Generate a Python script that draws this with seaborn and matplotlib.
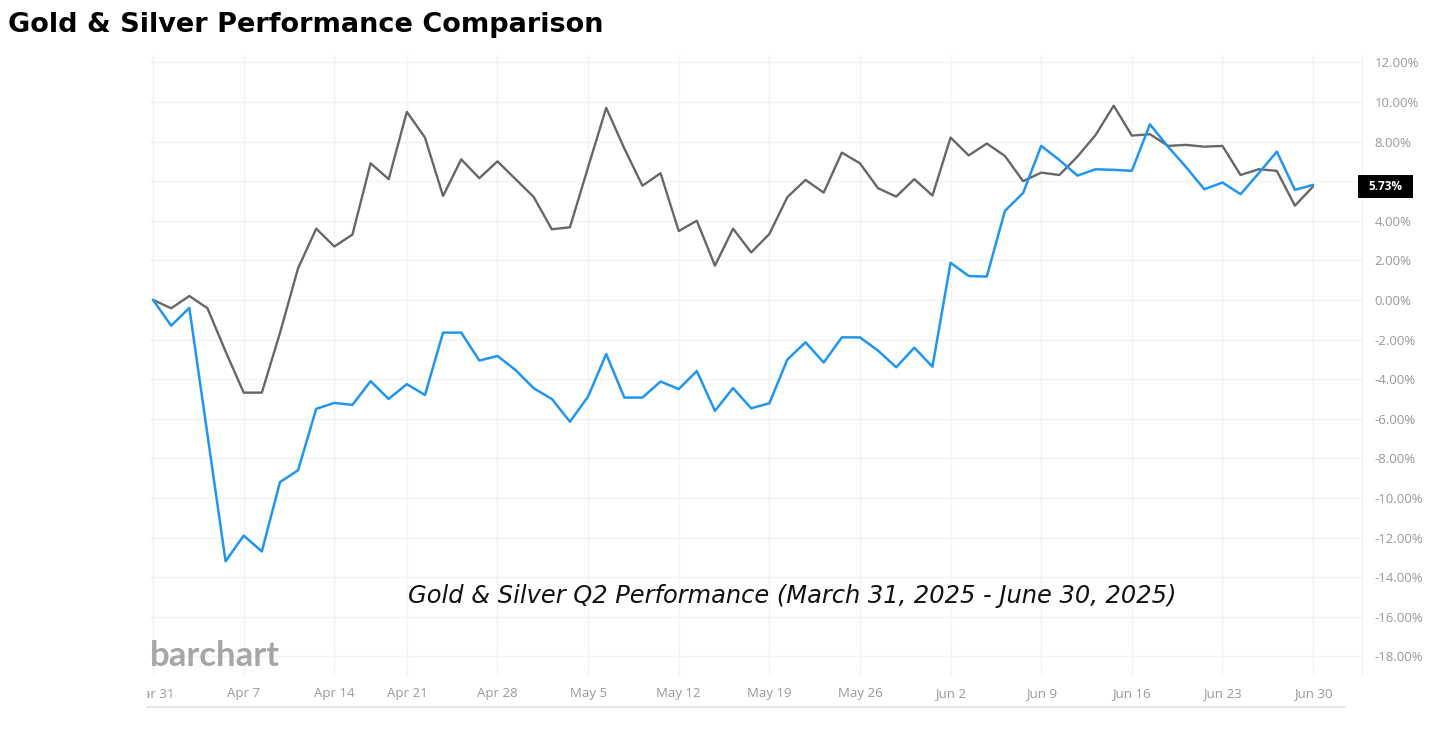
import numpy as np
import pandas as pd
import matplotlib
matplotlib.use("Agg")
import matplotlib.pyplot as plt
import matplotlib.transforms as mtransforms
from matplotlib.lines import Line2D
from matplotlib.patches import Rectangle
import seaborn as sns

# sessions Mar 31 - Jun 30 2025 (Good Friday closed)
sessions = pd.bdate_range("2025-03-31", "2025-06-30")
sessions = sessions[sessions != pd.Timestamp("2025-04-18")]

# % change since Mar 31
gold = [0.0, -0.42, 0.2, -0.42, -2.6, -4.68, -4.68, -1.67, 1.6, 3.6,
        2.7, 3.3, 6.9, 6.1, 9.5, 8.2, 5.25, 7.1, 6.15, 7.0,
        6.1, 5.2, 3.57, 3.67, 6.7, 9.7, 7.65, 5.77, 6.4, 3.48,
        4.0, 1.73, 3.6, 2.4, 3.33, 5.2, 6.06, 5.42, 7.44, 6.9,
        5.64, 5.22, 6.1, 5.27, 8.2, 7.3, 7.9, 7.27, 6.0, 6.43,
        6.31, 7.24, 8.33, 9.81, 8.3, 8.37, 7.78, 7.83, 7.74, 7.78,
        6.31, 6.6, 6.52, 4.76, 5.73]
silver = [0.0, -1.3, -0.4, -6.8, -13.2, -11.9, -12.7, -9.2, -8.6, -5.5,
          -5.2, -5.3, -4.1, -5.0, -4.25, -4.8, -1.65, -1.65, -3.06, -2.83,
          -3.54, -4.46, -5.0, -6.15, -4.88, -2.73, -4.93, -4.93, -4.12, -4.5,
          -3.59, -5.6, -4.45, -5.47, -5.22, -3.0, -2.14, -3.16, -1.89, -1.89,
          -2.56, -3.4, -2.41, -3.37, 1.88, 1.21, 1.18, 4.5, 5.4, 7.78,
          7.07, 6.28, 6.6, 6.57, 6.52, 8.87, 7.74, 6.7, 5.59, 5.93,
          5.34, 6.4, 7.49, 5.56, 5.81]

df = pd.DataFrame({"session": np.arange(len(sessions)), "date": sessions,
                   "Gold": gold, "Silver": silver})

sns.set_style("white")
plt.rcParams["font.family"] = ["Open Sans", "DejaVu Sans"]
plt.rcParams["axes.unicode_minus"] = False

fig = plt.figure(figsize=(14.45, 7.29), dpi=100)
ax = fig.add_axes([150 / 1445, 1 - 675 / 729, 1212 / 1445, 620 / 729])

sns.lineplot(data=df, x="session", y="Gold", ax=ax, color="#676767", linewidth=1.7)
sns.lineplot(data=df, x="session", y="Silver", ax=ax, color="#2196f0", linewidth=1.8)

ax.set_xlim(-0.17, 66.7)
ax.set_ylim(-18.94, 12.37)

# weekly ticks on the first session (Monday)
mondays = df[df["date"].dt.dayofweek == 0]
ax.set_xticks(mondays["session"])
ax.set_xticklabels([f"{d:%b} {d.day}" for d in mondays["date"]])

# right axis; the label under the last-value tag is hidden, as on the screenshot
yt = np.arange(-18, 13, 2)
ax.set_yticks(yt)
ax.set_yticklabels(["" if abs(v - gold[-1]) < 1 else f"{v:.2f}%" for v in yt])
ax.yaxis.tick_right()
ax.tick_params(axis="both", length=0, labelsize=9.5, labelcolor="#999999")
ax.tick_params(axis="y", pad=9)
ax.tick_params(axis="x", pad=9)
ax.set_xlabel("")
ax.set_ylabel("")
ax.grid(True, color="#f3f3f3", linewidth=1)
for s in ["left", "top", "bottom"]:
    ax.spines[s].set_visible(False)
ax.spines["right"].set_color("#f0f0f0")

# last value tag
tr = mtransforms.blended_transform_factory(ax.transAxes, ax.transData)
ax.add_patch(Rectangle((1208 / 1212, gold[-1] - 0.56), 55 / 1212, 1.12, transform=tr,
                       facecolor="black", edgecolor="none", clip_on=False, zorder=5))
ax.text(1235 / 1212, gold[-1], f"{gold[-1]:.2f}%", transform=tr, ha="center", va="center",
        fontsize=8.5, fontweight="bold", color="white", clip_on=False, zorder=6)

# titles and watermark
fig.text(8 / 1445, 1 - 25 / 729, "Gold & Silver Performance Comparison",
         fontsize=19.5, fontweight="bold", family=["DejaVu Sans"], color="black",
         va="center", ha="left")
fig.text(792 / 1445, 1 - 596 / 729, "Gold & Silver Q2 Performance (March 31, 2025 - June 30, 2025)",
         fontsize=17.4, style="italic", family=["DejaVu Sans"], color="#111111",
         va="center", ha="center")
fig.text(150 / 1445, 1 - 656 / 729, "barchart", fontsize=25, fontweight="bold",
         family=["Lato", "DejaVu Sans"], color="#a6a6a6", va="center", ha="left")

# clip first date label like the screenshot, and the bottom rule
fig.add_artist(Rectangle((0, 1 - 705 / 729), 147 / 1445, 30 / 729, transform=fig.transFigure,
                         facecolor="white", edgecolor="none"))
fig.add_artist(Line2D([147 / 1445, 1345 / 1445], [1 - 707 / 729] * 2, transform=fig.transFigure,
                      color="#e6e6e6", linewidth=1.5))

fig.savefig("out.png", dpi=100)
